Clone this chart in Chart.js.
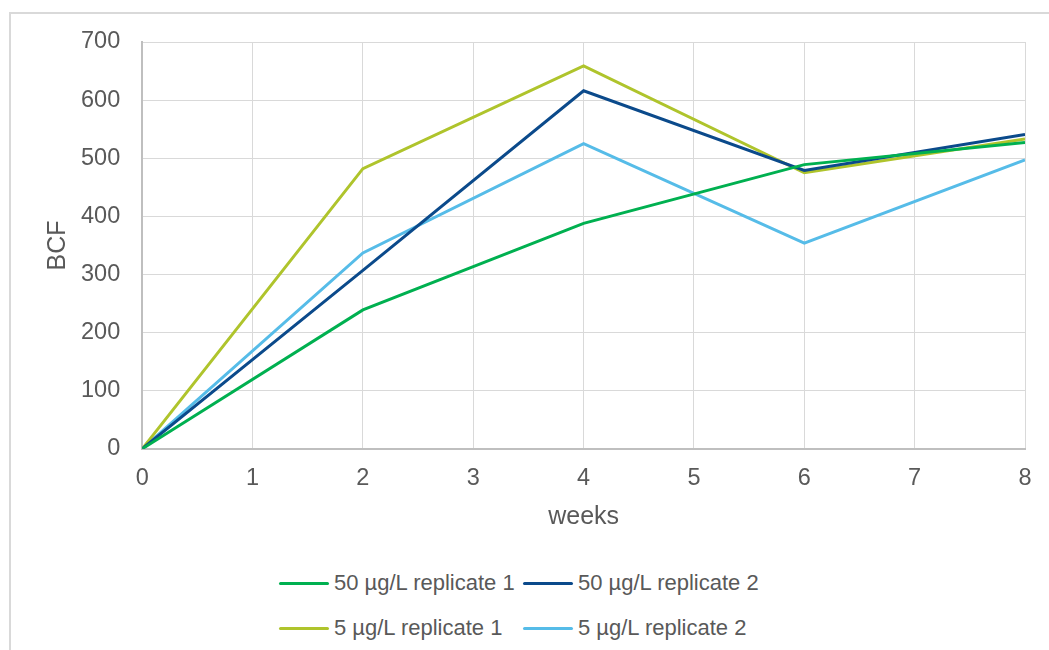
<!DOCTYPE html>
<html>
<head>
<meta charset="utf-8">
<script src="https://cdn.jsdelivr.net/npm/chart.js@4/dist/chart.umd.min.js"></script>
<style>
  html, body { margin: 0; padding: 0; background: #fff; }
  body { width: 1049px; height: 650px; position: relative; overflow: hidden; font-family: "Liberation Sans", Arial, sans-serif; }
  #frame { position: absolute; left: 9px; top: 12px; width: 1100px; height: 700px; border-left: 2px solid #D9D9D9; border-top: 2px solid #D9D9D9; }
  #wrap { position: absolute; left: 0; top: 0; width: 1049px; height: 544px; }
  #legend { position: absolute; left: 279px; top: 570px; display: grid; grid-template-columns: 244px 260px; row-gap: 19px; }
  .item { display: flex; align-items: center; height: 26px; color: #595959; font-size: 22px; white-space: nowrap; }
  .swatch { width: 50px; height: 3px; border-radius: 2px; margin-right: 5px; }
</style>
</head>
<body>
<div id="frame"></div>
<div id="wrap"><canvas id="chart"></canvas></div>
<div id="legend"></div>
<script>
// giá trị
const weeks = [0, 2, 4, 6, 8];
const high1 = [0, 239, 388, 489, 527];
const high2 = [0, 307, 616, 479, 541];
const low1 = [0, 482, 659, 475, 533];
const low2 = [0, 337, 525, 354, 497];
const yTicks = [0, 100, 200, 300, 400, 500, 600, 700];

const seriesNames = ['50 µg/L replicate 1', '50 µg/L replicate 2', '5 µg/L replicate 1', '5 µg/L replicate 2'];
const seriesColors = ['#00B050', '#0B4A8B', '#AFC42C', '#56BCE8'];
const seriesValues = [high1, high2, low1, low2];

const font = 'Liberation Sans, Arial, sans-serif';
const textColor = '#595959';

function toPoints(values) {
  return weeks.map((w, i) => ({ x: w, y: values[i] }));
}

const ctx = document.getElementById('chart').getContext('2d');
const myChart = new Chart(ctx, {
  type: 'line',
  data: {
    datasets: seriesValues.map((vals, i) => ({
      label: seriesNames[i],
      data: toPoints(vals),
      borderColor: seriesColors[i],
      backgroundColor: seriesColors[i],
      borderWidth: 3,
      pointRadius: 0,
      tension: 0,
      fill: false
    }))
  },
  options: {
    responsive: true,
    maintainAspectRatio: false,
    animation: false,
    layout: { padding: { left: 37, top: 42, right: 24, bottom: 8 } },
    scales: {
      x: {
        type: 'linear',
        min: 0,
        max: 8,
        ticks: { stepSize: 1, padding: 16, color: textColor, font: { family: font, size: 23.5 } },
        grid: { color: '#D9D9D9', lineWidth: 1, drawTicks: false },
        border: { color: '#BFBFBF', width: 2 },
        title: { display: true, text: 'weeks', color: textColor, font: { family: font, size: 25 }, padding: { top: -7, bottom: 4 } }
      },
      y: {
        min: 0,
        max: 700,
        afterBuildTicks: axis => { axis.ticks = yTicks.map(v => ({ value: v })); },
        ticks: { padding: 22, color: textColor, font: { family: font, size: 23.5 } },
        grid: { color: '#D9D9D9', lineWidth: 1, drawTicks: false },
        border: { color: '#BFBFBF', width: 2 },
        title: { display: true, text: 'BCF', color: textColor, font: { family: font, size: 25 }, padding: { top: 6, bottom: -14 } }
      }
    },
    plugins: {
      legend: { display: false },
      tooltip: { enabled: false }
    }
  }
});

// chú thích dạng lưới 2 cột như bản gốc
const legendBox = document.getElementById('legend');
myChart.data.datasets.forEach(ds => {
  const item = document.createElement('div');
  item.className = 'item';
  const sw = document.createElement('span');
  sw.className = 'swatch';
  sw.style.background = ds.borderColor;
  const txt = document.createElement('span');
  txt.textContent = ds.label;
  item.appendChild(sw);
  item.appendChild(txt);
  legendBox.appendChild(item);
});
</script>
</body>
</html>
